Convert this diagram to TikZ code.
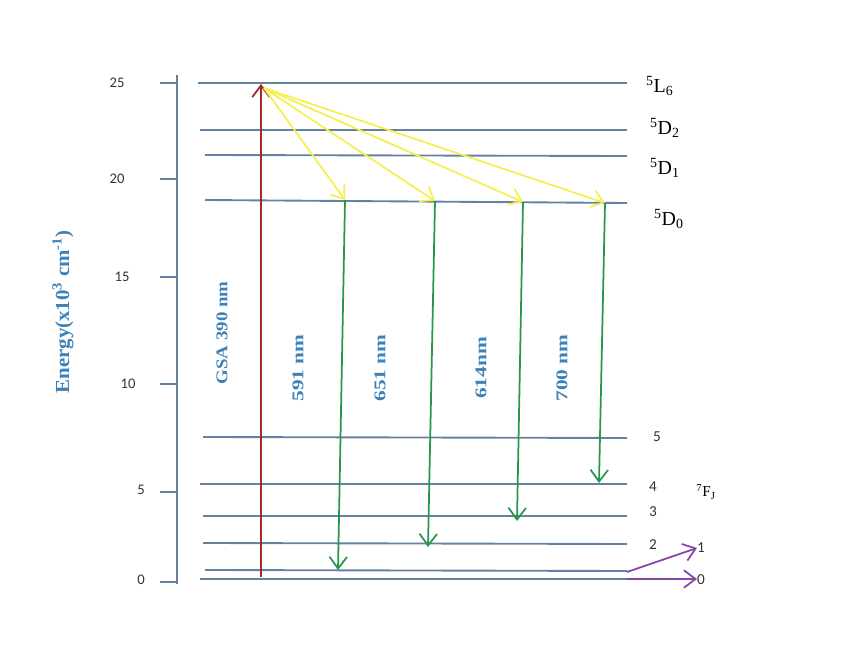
\documentclass[tikz,border=0pt]{standalone}
\usepackage{fontspec}
\setmainfont{Liberation Serif}
\setsansfont{Carlito}
\usetikzlibrary{arrows.meta}
\definecolor{levelblue}{RGB}{100,130,160}
\definecolor{labelblue}{RGB}{60,130,185}
\definecolor{gsared}{RGB}{165,40,45}
\definecolor{nryellow}{RGB}{245,240,80}
\definecolor{emgreen}{RGB}{40,150,75}
\definecolor{relpurple}{RGB}{135,70,165}

\begin{document}
\begin{tikzpicture}[x=0.03cm, y=-0.03cm,
    level/.style={levelblue, line width=1.6pt},
    tick/.style={font=\sffamily\fontsize{12.5}{12.5}\selectfont, text=black!80},
    state/.style={font=\fontsize{17}{17}\selectfont, anchor=west},
    wavelabel/.style={rotate=90, xscale=1.3, font=\bfseries\fontsize{14}{14}\selectfont, text=labelblue},
    arr/.style={-{Straight Barb[length=10pt, width=15pt]}, line width=1.5pt}]
  \useasboundingbox (0,0) rectangle (857,656);
  % Energy axis
  \draw[levelblue, line width=1.6pt] (177,75) -- (177,584);
  \draw[levelblue, line width=1.6pt] (160,83) -- (177,83);
  \draw[levelblue, line width=1.6pt] (160,179) -- (177,179);
  \draw[levelblue, line width=1.6pt] (160,277) -- (177,277);
  \draw[levelblue, line width=1.6pt] (160,384) -- (177,384);
  \draw[levelblue, line width=1.6pt] (160,492) -- (177,492);
  \draw[levelblue, line width=1.6pt] (160,582) -- (177,582);
  \node[tick] (t25) at (117,83) {25};
  \node[tick] (t20) at (117,179) {20};
  \node[tick] (t15) at (122,277) {15};
  \node[tick] (t10) at (128,384) {10};
  \node[tick] (t5) at (141,490) {5};
  \node[tick] (t0) at (141,580) {0};
  \node[rotate=90, xscale=1.05, font=\bfseries\fontsize{17}{17}\selectfont, text=labelblue] (ylab) at (63,312)
    {Energy(x10\textsuperscript{3} cm\textsuperscript{-1})};
  % Energy levels
  \draw[level] (198,83) -- (627,83);
  \draw[level] (200,130) -- (627,130);
  \draw[level] (205,155) -- (627,156);
  \draw[level] (205,200) -- (627,203);
  \draw[level] (203,437) -- (627,438);
  \draw[level] (200,484) -- (627,484);
  \draw[level] (203,516) -- (627,516);
  \draw[level] (203,543) -- (627,544);
  \draw[level] (205,570) -- (627,571);
  \draw[level] (200,579) -- (627,579);
  % Level names
  \node[state] (sL6) at (642,86) {\textsuperscript{5}L\textsubscript{6}};
  \node[state] (sD2) at (646,128) {\textsuperscript{5}D\textsubscript{2}};
  \node[state] (sD1) at (646,168) {\textsuperscript{5}D\textsubscript{1}};
  \node[state] (sD0) at (650,219) {\textsuperscript{5}D\textsubscript{0}};
  \node[tick, font=\sffamily\fontsize{13}{13}\selectfont] (f5) at (657,437) {5};
  \node[tick, font=\sffamily\fontsize{13}{13}\selectfont] (f4) at (653,487) {4};
  \node[tick, font=\sffamily\fontsize{13}{13}\selectfont] (f3) at (653,512) {3};
  \node[tick, font=\sffamily\fontsize{13}{13}\selectfont] (f2) at (653,545) {2};
  \node[tick, font=\sffamily\fontsize{13}{13}\selectfont] (f1) at (701,548) {1};
  \node[tick, font=\sffamily\fontsize{13}{13}\selectfont] (f0) at (701,580) {0};
  \node[font=\fontsize{13}{13}\selectfont] (fJ) at (706,492) {\textsuperscript{7}F\textsubscript{J}};
  % Arrow end points
  \coordinate (g0) at (261,577);
  \coordinate (g6) at (261,84);
  \coordinate (y0) at (264,88);
  \coordinate (d1) at (345,200);
  \coordinate (d2) at (435,201);
  \coordinate (d3) at (523,202);
  \coordinate (d4) at (605,203);
  \coordinate (e1) at (338,570);
  \coordinate (e2) at (428,547);
  \coordinate (e3) at (517,521);
  \coordinate (e4) at (599,483);
  \coordinate (p1) at (627,572);
  \coordinate (p0) at (627,579);
  \coordinate (q1) at (697,548);
  \coordinate (q0) at (697,579);
  % Excitation
  \draw[arr, gsared] (g0) -- (g6);
  % Non-radiative decay
  \draw[arr, nryellow] (y0) -- (d1);
  \draw[arr, nryellow] (y0) -- (d2);
  \draw[arr, nryellow] (y0) -- (d3);
  \draw[arr, nryellow] (y0) -- (d4);
  % Emission
  \draw[arr, emgreen] (d1) -- (e1);
  \draw[arr, emgreen] (d2) -- (e2);
  \draw[arr, emgreen] (d3) -- (e3);
  \draw[arr, emgreen] (d4) -- (e4);
  % Relaxation
  \draw[arr, relpurple] (p1) -- (q1);
  \draw[arr, relpurple] (p0) -- (q0);
  % Wavelength labels
  \node[wavelabel, xscale=0.885] (wgsa) at (222,333) {GSA 390 nm};
  \node[wavelabel] (w591) at (298,368) {591 nm};
  \node[wavelabel] (w651) at (380,368) {651 nm};
  \node[wavelabel] (w614) at (481,368) {614nm};
  \node[wavelabel] (w700) at (562,368) {700 nm};
\end{tikzpicture}
\end{document}
